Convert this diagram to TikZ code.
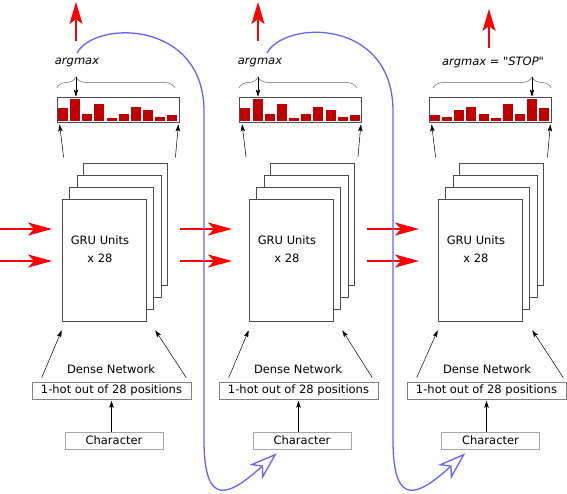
\documentclass[tikz,border=0pt]{standalone}
\usepackage{fontspec}
\setmainfont{DejaVu Sans}[Ligatures=TeXOff]
\usetikzlibrary{arrows.meta,decorations.pathreplacing,calc}
\definecolor{netred}{RGB}{255,0,0}
\definecolor{barred}{RGB}{192,0,0}
\definecolor{loopblue}{RGB}{100,100,255}
\def\histbars(#1)#2{\foreach \h [count=\i from 0] in {#2} {\fill[barred] ($(#1)+({1.3+12.16*\i},-1.3)$) rectangle ++(10,-\h);}}

\begin{document}
\begin{tikzpicture}[x=1pt, y=-1pt,
	every node/.style={font=\fontsize{11.5}{14}\selectfont},
	stackbox/.style={draw=black!70, fill=white, line width=0.6pt, minimum width=84pt, minimum height=122pt, inner sep=0pt},
	grutext/.style={align=center, font=\fontsize{11.5}{18}\selectfont},
	histbox/.style={draw=black!70, line width=0.8pt, minimum width=122pt, minimum height=25pt, inner sep=0pt},
	hotbox/.style={draw=black!50, line width=0.6pt, minimum width=159pt, minimum height=17pt, inner sep=0pt},
	charbox/.style={draw=black!35, line width=0.6pt, minimum width=98pt, minimum height=17pt, inner sep=0pt},
	argtext/.style={font=\fontsize{11.5}{14}\selectfont\itshape},
	flowred/.style={netred, line width=1.3pt, -{Stealth[length=24pt,width=13pt,inset=6pt]}},
	flowup/.style={netred, line width=1.5pt, -{Stealth[length=22pt,width=13pt,inset=5pt]}},
	feed/.style={black, line width=0.5pt, -{Stealth[length=7pt,width=4.5pt,inset=1.5pt]}},
	pickbrace/.style={draw=black!60, line width=0.5pt, decorate, decoration={brace, amplitude=11pt, aspect=#1}},
	feedback/.style={loopblue, line width=1.3pt, -{Stealth[open, length=28pt, width=19pt, inset=8pt]}}]
	%%%%% START %%%%%
	\useasboundingbox (0,0) rectangle (567,493);
	
	% block 1
	\node[stackbox] (gruA3) at (125,224.5) {};
	\node[stackbox] (gruA2) at (119,236) {};
	\node[stackbox] (gruA1) at (111,248.5) {};
	\node[stackbox] (gruA) at (104,260) {};
	\node[grutext] (gruAtext) at (100,249) {GRU Units\\x 28};
	
	\node[histbox] (histA) at (118,109.5) {};
	\histbars(histA.south west){13,22.3,7,17,2.7,7,13.7,11,3.7,6}
	\draw[pickbrace=0.16] (57,88) -- (175,88);
	\draw[feed] (76,77) -- (histA.north -| 76,0);
	\node[argtext] (argA) at (77,62) {argmax};
	\draw[flowup] (76,41) -- (76,2);
	\draw[feed] ($(histA.south west)+(7,35)$) -- ($(histA.south west)+(3,2)$);
	\draw[feed] ($(histA.south east)+(-4,35)$) -- ($(histA.south east)+(-1,2)$);
	
	\node (denseA) at (111,369) {Dense Network};
	\node[hotbox] (hotA) at (111.5,390.5) {1-hot out of 28 positions};
	\node[charbox] (charA) at (114,440.5) {Character};
	\draw[feed, shorten >=1.5pt] (charA.north -| hotA) -- (hotA.south);
	\draw[feed] ($(hotA.north west)+(10,-4)$) -- ($(gruA.south west)+(0,9)$);
	\draw[feed] ($(hotA.north east)+(-5,-4)$) -- ($(gruA.south east)+(9,9)$);
	
	\draw[flowred] (0,229) -- (52,229);
	\draw[flowred] (0,261) -- (52,261);
	
	% block 2
	\node[stackbox] (gruB3) at (312,224.5) {};
	\node[stackbox] (gruB2) at (306,236) {};
	\node[stackbox] (gruB1) at (298,248.5) {};
	\node[stackbox] (gruB) at (291,260) {};
	\node[grutext] (gruBtext) at (287,249) {GRU Units\\x 28};
	
	\node[histbox] (histB) at (300.5,109.5) {};
	\histbars(histB.south west){13,22.3,7,17,2.7,7,13.7,11,3.7,6}
	\draw[pickbrace=0.16] (239,88) -- (357,88);
	\draw[feed] (258,77) -- (histB.north -| 258,0);
	\node[argtext] (argB) at (260,62) {argmax};
	\draw[flowup] (258,41) -- (258,2);
	\draw[feed] ($(histB.south west)+(7,35)$) -- ($(histB.south west)+(3,2)$);
	\draw[feed] ($(histB.south east)+(-4,35)$) -- ($(histB.south east)+(-1,2)$);
	
	\node (denseB) at (298,369) {Dense Network};
	\node[hotbox] (hotB) at (298.5,390.5) {1-hot out of 28 positions};
	\node[charbox] (charB) at (302,440.5) {Character};
	\draw[feed, shorten >=1.5pt] (charB.north -| hotB) -- (hotB.south);
	\draw[feed] ($(hotB.north west)+(10,-4)$) -- ($(gruB.south west)+(0,9)$);
	\draw[feed] ($(hotB.north east)+(-6,-4)$) -- ($(gruB.south east)+(9,9)$);
	
	\draw[flowred] (180,229) -- (232,229);
	\draw[flowred] (180,261) -- (232,261);
	
	% block 3
	\node[stackbox] (gruC3) at (501,224.5) {};
	\node[stackbox] (gruC2) at (495,236) {};
	\node[stackbox] (gruC1) at (487,248.5) {};
	\node[stackbox] (gruC) at (480,260) {};
	\node[grutext] (gruCtext) at (476,249) {GRU Units\\x 28};
	
	\node[histbox] (histC) at (490,109.5) {};
	\histbars(histC.south west){6,3.7,11,13.7,7,2.7,17,7,22.3,13}
	\draw[pickbrace=0.84] (433,88) -- (551,88);
	\draw[feed] (532,77) -- (histC.north -| 532,0);
	\node[argtext] (argC) at (493,62) {argmax = "STOP"};
	\draw[flowup] (489,48) -- (489,9);
	\draw[feed] ($(histC.south west)+(7,35)$) -- ($(histC.south west)+(3,2)$);
	\draw[feed] ($(histC.south east)+(-4,35)$) -- ($(histC.south east)+(-1,2)$);
	
	\node (denseC) at (487,369) {Dense Network};
	\node[hotbox] (hotC) at (486.5,390.5) {1-hot out of 28 positions};
	\node[charbox] (charC) at (490.5,440.5) {Character};
	\draw[feed, shorten >=1.5pt] (charC.north -| hotC) -- (hotC.south);
	\draw[feed] ($(hotC.north west)+(10,-4)$) -- ($(gruC.south west)+(0,9)$);
	\draw[feed] ($(hotC.north east)+(-3,-4)$) -- ($(gruC.south east)+(10,9)$);
	
	\draw[flowred] (367,229) -- (419,229);
	\draw[flowred] (367,261) -- (419,261);
	
	% feedback of the chosen character
	\draw[feedback] (77,53) .. controls (95,20) and (203,20) .. (204,110) -- (204,440)
		.. controls (204,510) and (230,495) .. ($(charB.south west)+(24,4)$);
	\draw[feedback] (267,53) .. controls (285,20) and (392,18) .. (393,110) -- (393,440)
		.. controls (393,510) and (419,495) .. ($(charC.south west)+(24,4)$);
	
	%%%%% END %%%%%
\end{tikzpicture}
\end{document}
